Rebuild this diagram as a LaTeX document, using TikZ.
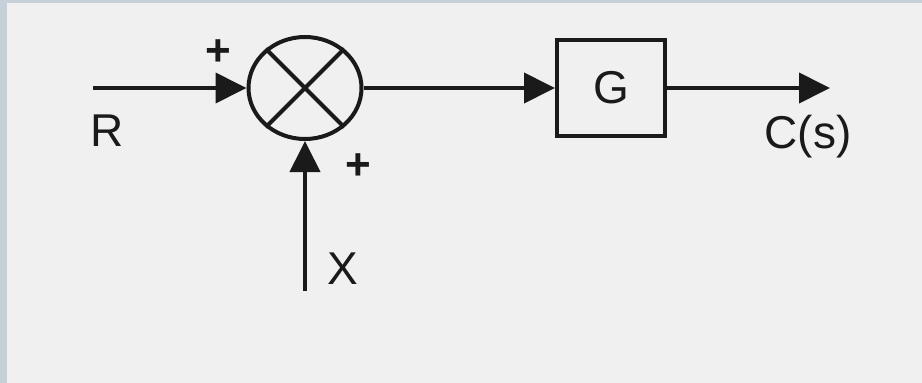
\documentclass[tikz,border=0pt]{standalone}
\usepackage{fontspec}
\setmainfont{Liberation Sans}
\usetikzlibrary{arrows.meta,shapes.geometric}
\definecolor{framec}{HTML}{C5D0D8}
\definecolor{paper}{HTML}{F0F0F0}
\definecolor{ink}{HTML}{1A1A1A}
\tikzset{
  wire/.style={line width=4pt, draw=ink, -{Triangle[length=31pt,width=30pt]}},
  plainwire/.style={line width=4pt, draw=ink},
  lbl/.style={font=\fontsize{46}{50}\selectfont, text=ink, inner sep=0pt},
  sgn/.style={font=\fontsize{44}{48}\selectfont\bfseries, text=ink, inner sep=0pt},
  sumjunc/.style={ellipse, draw=ink, line width=4pt, minimum width=113pt, minimum height=102pt, inner sep=0pt},
  blockbox/.style={rectangle, draw=ink, line width=4pt, fill=paper, minimum width=108pt, minimum height=96pt, inner sep=0pt, font=\fontsize{46}{50}\selectfont, text=ink}
}
\begin{document}
\begin{tikzpicture}[x=1pt,y=-1pt]
\fill[framec] (0,0) rectangle (922,383);
\fill[paper] (7,3) rectangle (922,383);
\useasboundingbox (0,0) rectangle (922,383);

\node[sumjunc] (sum) at (305,88) {};
\draw[plainwire] (sum.135) -- (sum.-45);
\draw[plainwire] (sum.45) -- (sum.-135);

\node[blockbox] (g) at (611,88) {G};

\coordinate (rin) at (93,88);
\coordinate (cout) at (830,88);
\coordinate (xin) at (305,291);

\draw[wire] (rin) -- (sum.west);
\draw[wire] (sum.east) -- (g.west);
\draw[wire] (g.east) -- (cout);
\draw[wire] (xin) -- (sum.south);

\node[lbl] (rl) at (107,131) {R};
\node[lbl] (cl) at (808,137) {C(s)};
\node[lbl] (xl) at (343,269) {X};
\node[sgn] (p1) at (218,53) {+};
\node[sgn] (p2) at (358,167) {+};
\end{tikzpicture}
\end{document}
